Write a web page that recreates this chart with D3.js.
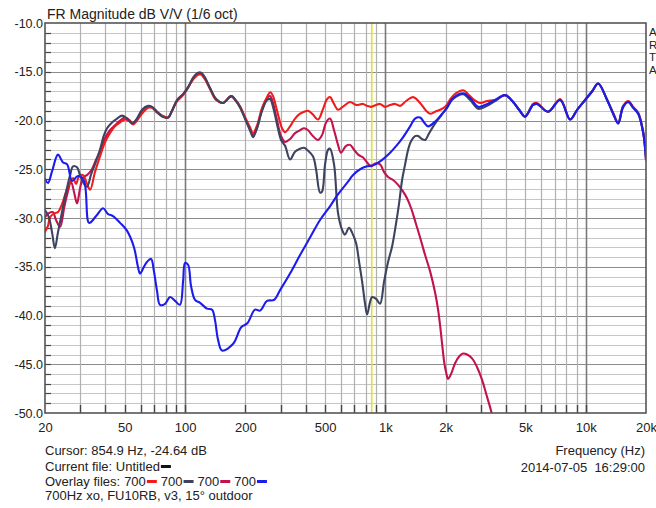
<!DOCTYPE html>
<html><head><meta charset="utf-8">
<script src="https://cdn.jsdelivr.net/npm/d3@7"></script>
<style>
html,body{margin:0;padding:0;background:#fff;}
svg{display:block;font-family:"Liberation Sans",Arial,sans-serif;}
</style></head><body>
<svg id="chart" width="656" height="508"></svg>
<script>
// ---------- data ----------
const titleText = "FR Magnitude dB V/V (1/6 oct)";
const yTickValues = [-50,-45,-40,-35,-30,-25,-20,-15,-10];
const xTickValues = [20,50,100,200,500,1000,2000,5000,10000,20000];
const xTickLabels = ["20","50","100","200","500","1k","2k","5k","10k","20k"];
const cursorHz = 854.9;
const cursorDb = -24.64;
const seriesNames = ["700","700","700","700"];
const sideLetters = ["A","R","T","A"];

// [Hz, dB]
const redSeries = [[20,-31.4],[20.7,-30.8],[21.2,-29.9],[22.4,-29.5],[23.2,-29.4],[24.3,-28.6],[25.5,-27.3],[26.7,-26.3],[27.6,-25.9],[28.6,-26.5],[29.6,-25.7],[31.0,-25.6],[32.4,-26.5],[33.6,-27.1],[35.5,-25.3],[37.6,-23.7],[39.9,-22.2],[42.2,-21.3],[44.7,-20.6],[47.4,-20.2],[50.2,-19.9],[53.1,-20.1],[55.0,-20.4],[57.6,-20.0],[61.0,-19.3],[65.4,-18.7],[68.4,-18.7],[72.5,-19.2],[76.8,-19.5],[82.3,-19.7],[86.1,-19.0],[91.3,-18.0],[97.8,-17.4],[103.6,-16.6],[109.7,-15.8],[116.2,-15.3],[120.3,-15.3],[125.9,-15.8],[133.4,-16.8],[142.9,-17.9],[154.9,-18.2],[169.9,-17.5],[180,-18.0],[188.5,-18.6],[199,-19.6],[211,-20.7],[218.6,-21.3],[228.8,-20.5],[242.4,-18.7],[256.8,-17.6],[265.8,-17.1],[275,-17.5],[288,-19.0],[305,-20.8],[315.8,-21.2],[334.4,-20.6],[354.2,-19.8],[375.2,-19.3],[392.8,-19.1],[411.4,-19.0],[430.6,-19.3],[461.4,-19.9],[488.8,-18.8],[511.6,-17.8],[529.4,-17.6],[554.4,-18.3],[580.4,-18.9],[621.8,-18.5],[666.4,-18.1],[714.4,-18.4],[774.2,-18.3],[810.8,-18.5],[849,-18.6],[899.4,-18.4],[941.2,-18.3],[997,-18.6],[1056,-18.4],[1118,-18.3],[1185,-18.5],[1269,-18.0],[1376,-17.6],[1491,-18.2],[1597,-19.0],[1674,-19.3],[1773,-19.1],[1878,-18.9],[1990,-18.6],[2128,-17.7],[2254,-17.2],[2444,-16.9],[2588,-17.3],[2742,-17.8],[2970,-18.2],[3220,-18.0],[3530,-17.9],[3960,-17.4],[4342,-18.1],[4652,-18.9],[4982,-19.6],[5462,-18.3],[5718,-18.2],[6492,-19.1],[7454,-17.8],[8362,-19.9],[9066,-18.9],[9936,-17.9],[10772,-17.0],[11542,-16.2],[12798,-17.9],[13710,-19.2],[14526,-20.2],[15382,-18.5],[16330,-18.0],[17268,-18.6],[18298,-19.2],[19380,-21.2],[20000,-24.0]];

const navySeries = [[20,-29.2],[20.9,-29.9],[21.7,-31.5],[22.4,-33.1],[23.2,-31.5],[24.0,-30.0],[25.2,-27.8],[26.7,-25.6],[27.6,-24.7],[28.9,-24.8],[29.9,-25.6],[31.3,-26.5],[32.4,-26.8],[34.0,-25.5],[35.5,-24.5],[37.6,-23.0],[39.4,-21.5],[40.8,-20.8],[43.2,-20.2],[45.8,-19.8],[48.5,-19.5],[51.3,-19.8],[54.4,-20.3],[57.6,-19.8],[61.0,-18.9],[65.4,-18.5],[68.4,-18.6],[72.5,-19.1],[76.8,-19.6],[82.3,-19.7],[86.1,-19.0],[91.3,-17.9],[97.8,-17.3],[103.6,-16.6],[109.7,-15.6],[116.2,-15.1],[120.3,-15.1],[125.9,-15.6],[133.4,-16.7],[142.9,-17.8],[154.9,-18.2],[169.9,-17.5],[180,-18.0],[188.5,-18.7],[199,-19.8],[211,-21.0],[218.6,-21.7],[228.8,-20.8],[242.4,-19.0],[256.8,-17.9],[265.8,-17.8],[275,-18.6],[288,-20.4],[301.6,-22.0],[315.8,-22.6],[334.4,-24.0],[354.2,-23.2],[375.2,-22.9],[392.8,-22.8],[411.4,-23.1],[435.6,-23.7],[450.8,-25.0],[472,-27.4],[483,-27.3],[500,-24.5],[517.6,-23.0],[529.4,-22.9],[554.4,-24.5],[580.4,-29.5],[607.8,-31.2],[628.8,-31.7],[658.6,-31.0],[682.4,-31.5],[714.4,-32.6],[739.6,-34.5],[765.4,-36.5],[792,-38.8],[810.8,-39.9],[839,-38.6],[858.8,-38.1],[899.4,-38.3],[941.2,-38.8],[985.6,-36.5],[1032,-34.5],[1081,-32.9],[1132,-30.5],[1171,-28.5],[1212,-26.1],[1255,-24.5],[1299,-23.0],[1345,-22.1],[1407,-21.6],[1457,-21.6],[1526,-21.9],[1579,-22.0],[1654,-21.3],[1733,-20.6],[1815,-20.0],[1900,-19.5],[2009,-18.8],[2178,-17.8],[2444,-17.3],[2648,-17.9],[2904,-18.8],[3146,-18.6],[3530,-18.0],[3960,-17.4],[4342,-18.1],[4652,-18.9],[4982,-19.6],[5462,-18.4],[5718,-18.3],[6492,-19.1],[7454,-17.9],[8362,-19.9],[9066,-18.9],[9936,-17.9],[10772,-17.0],[11542,-16.2],[12798,-17.9],[13710,-19.3],[14526,-20.3],[15382,-18.6],[16330,-18.1],[17268,-18.7],[18298,-19.3],[19380,-21.3],[20000,-24.0]];

const crimsonSeries = [[20,-29.9],[20.9,-29.5],[21.9,-29.4],[22.7,-30.2],[23.8,-30.9],[24.9,-29.0],[25.8,-27.6],[27.0,-26.3],[27.9,-27.3],[28.9,-28.5],[29.9,-27.0],[31.0,-25.8],[32.4,-25.6],[34.3,-25.0],[36.0,-24.0],[37.6,-23.2],[39.9,-21.8],[42.2,-21.0],[44.7,-20.5],[47.4,-20.0],[50.2,-19.7],[53.1,-20.0],[55.0,-20.3],[57.6,-19.8],[61.0,-19.0],[65.4,-18.6],[68.4,-18.6],[72.5,-19.1],[76.8,-19.5],[82.3,-19.7],[86.1,-19.0],[91.3,-17.9],[97.8,-17.3],[103.6,-16.6],[109.7,-15.7],[116.2,-15.2],[120.3,-15.2],[125.9,-15.7],[133.4,-16.7],[142.9,-17.8],[154.9,-18.2],[169.9,-17.5],[180,-18.0],[188.5,-18.6],[199,-19.7],[211,-20.9],[218.6,-21.5],[228.8,-20.7],[242.4,-18.9],[256.8,-17.7],[265.8,-17.5],[275,-18.2],[288,-20.0],[301.6,-21.6],[315.8,-22.2],[334.4,-21.9],[354.2,-21.3],[375.2,-21.0],[392.8,-20.8],[411.4,-21.0],[430.6,-21.5],[461.4,-22.0],[483,-21.5],[505.8,-20.2],[529.4,-19.8],[554.4,-21.0],[580.4,-22.5],[600,-23.3],[636.8,-22.6],[666.4,-22.5],[698,-23.0],[731.4,-23.5],[774.2,-23.8],[810.8,-24.3],[849,-24.7],[888.8,-24.4],[941.2,-24.5],[985.6,-25.3],[1032,-25.8],[1093,-26.1],[1158,-26.6],[1227,-27.3],[1284,-28.0],[1345,-29.0],[1407,-30.3],[1491,-32.0],[1579,-33.8],[1674,-35.5],[1773,-37.7],[1836,-39.5],[1878,-41.1],[1967,-44.8],[2009,-45.8],[2056,-46.5],[2128,-46.0],[2228,-44.9],[2334,-44.2],[2444,-43.9],[2558,-44.0],[2708,-44.4],[2870,-45.3],[3040,-46.6],[3182,-48.0],[3332,-49.4],[3490,-51.0]];

const blueSeries = [[20,-26.0],[20.7,-26.4],[21.7,-25.2],[23.2,-23.5],[24.6,-24.3],[25.8,-24.5],[27.3,-26.2],[29.2,-25.7],[31.3,-26.2],[33.2,-30.5],[36.0,-29.8],[39.0,-29.0],[41.3,-29.6],[43.7,-29.8],[47.4,-30.5],[51.3,-31.3],[55.6,-33.0],[58.2,-35.0],[59.6,-35.7],[62.4,-35.0],[64.6,-34.5],[67.7,-34.2],[70.0,-35.5],[72.5,-37.5],[75.0,-38.9],[79.5,-38.8],[84.2,-38.1],[89.2,-38.5],[94.4,-38.9],[97.8,-36.5],[100,-34.6],[103.6,-34.8],[107.2,-37.0],[112.2,-38.4],[118.9,-38.7],[128.8,-39.3],[136.5,-39.4],[141.2,-40.5],[146.2,-42.5],[153.1,-43.6],[173.9,-42.9],[190.7,-41.2],[204.6,-40.8],[223.6,-39.4],[236.8,-39.5],[256.8,-38.5],[278.2,-38.4],[298.2,-37.4],[334.4,-35.7],[375.2,-33.8],[420.8,-32.0],[472,-30.2],[529.4,-28.8],[573.8,-27.7],[644,-26.4],[690,-25.6],[748,-25.0],[811,-24.7],[869,-24.6],[941,-24.2],[1056,-23.3],[1145,-22.5],[1227,-21.7],[1329,-20.6],[1407,-19.8],[1491,-19.7],[1561,-20.2],[1635,-20.6],[1773,-20.1],[1922,-19.3],[2032,-18.7],[2178,-17.7],[2444,-17.2],[2648,-17.7],[2904,-18.6],[3146,-18.4],[3530,-17.9],[3960,-17.4],[4342,-18.1],[4652,-18.9],[4982,-19.6],[5462,-18.4],[5718,-18.3],[6492,-19.1],[7454,-17.9],[8362,-19.9],[9066,-18.9],[9936,-17.9],[10772,-17.0],[11542,-16.2],[12798,-17.9],[13710,-19.3],[14526,-20.3],[15382,-18.6],[16330,-18.1],[17268,-18.7],[18298,-19.3],[19380,-21.3],[20000,-24.0]];

const seriesColors = ["#f01c1c","#3d4360","#c4124c","#1c1ced"];
const drawOrder = [2,0,1,3]; // crimson, red, navy, blue
const allSeries = [redSeries, navySeries, crimsonSeries, blueSeries];

// ---------- layout ----------
const svg = d3.select("#chart");
const L = 45, T = 23, R = 646, B = 413;
const x = d3.scaleLog().domain([20,20000]).range([L,R]);
const y = d3.scaleLinear().domain([-50,-10]).range([B,T]);

svg.append("rect").attr("width",656).attr("height",508).attr("fill","#fff");

// grid
const grid = svg.append("g");
const minorDb = d3.range(-49,-10).filter(d => d % 5 !== 0);
const majorDb = [-45,-40,-35,-30,-25,-20,-15];
grid.selectAll(".hmin").data(minorDb).join("line")
  .attr("x1",L).attr("x2",R).attr("y1",d=>Math.round(y(d))+0.5).attr("y2",d=>Math.round(y(d))+0.5)
  .attr("stroke","#c6c6c6").attr("stroke-width",1.2);
grid.selectAll(".hmaj").data(majorDb).join("line")
  .attr("x1",L).attr("x2",R).attr("y1",d=>Math.round(y(d))+0.5).attr("y2",d=>Math.round(y(d))+0.5)
  .attr("stroke","#8c8c8c").attr("stroke-width",1.2);
const fGrid = x.ticks().filter(f => f > 20 && f < 20000);
const isDecade = f => [100,1000,10000].includes(Math.round(f));
grid.selectAll(".v").data(fGrid).join("line")
  .attr("x1",d=>Math.round(x(d))+0.5).attr("x2",d=>Math.round(x(d))+0.5).attr("y1",T).attr("y2",B)
  .attr("stroke",d=>isDecade(d)?"#7a7a7a":"#b0b0b0").attr("stroke-width",d=>isDecade(d)?1.6:1.2);

// inner tick marks
grid.selectAll(".lt").data(d3.range(-49,-10)).join("line")
  .attr("x1",L).attr("x2",L+6).attr("y1",d=>Math.round(y(d))+0.5).attr("y2",d=>Math.round(y(d))+0.5)
  .attr("stroke","#444").attr("stroke-width",1.2);
grid.selectAll(".bt").data(fGrid).join("line")
  .attr("x1",d=>Math.round(x(d))+0.5).attr("x2",d=>Math.round(x(d))+0.5).attr("y1",B).attr("y2",B-8)
  .attr("stroke","#444").attr("stroke-width",1.4);

// cursor line
svg.append("line").attr("x1",x(cursorHz)).attr("x2",x(cursorHz)).attr("y1",T).attr("y2",B)
  .attr("stroke","#e2e030").attr("stroke-width",1.6);

// curves
svg.append("clipPath").attr("id","plotclip").append("rect")
  .attr("x",L).attr("y",T).attr("width",R-L).attr("height",B-T);
const line = d3.line().x(d=>x(d[0])).y(d=>y(d[1])).curve(d3.curveCatmullRom.alpha(0.5));
const curves = svg.append("g").attr("clip-path","url(#plotclip)");
drawOrder.forEach(i => {
  curves.append("path").datum(allSeries[i]).attr("d",line)
    .attr("fill","none").attr("stroke",seriesColors[i]).attr("stroke-width",2.1)
    .attr("stroke-linejoin","round").attr("stroke-linecap","round");
});

// frame
svg.append("rect").attr("x",L).attr("y",T).attr("width",R-L).attr("height",B-T)
  .attr("fill","none").attr("stroke","#555").attr("stroke-width",1.6);

// axes labels
const yAxis = d3.axisLeft(y).tickValues(yTickValues).tickSize(0).tickPadding(2).tickFormat(d=>d.toFixed(1));
const ya = svg.append("g").attr("transform",`translate(${L},0)`).call(yAxis);
ya.select(".domain").remove();
ya.selectAll("text").attr("font-size",12.5).attr("fill","#222").attr("font-family","Liberation Sans, Arial, sans-serif");

const xAxis = d3.axisBottom(x).tickValues(xTickValues).tickSize(0).tickPadding(10)
  .tickFormat((d,i)=>xTickLabels[i]);
const xa = svg.append("g").attr("transform",`translate(0,${B})`).call(xAxis);
xa.select(".domain").remove();
xa.selectAll("text").attr("font-size",13).attr("fill","#222").attr("font-family","Liberation Sans, Arial, sans-serif");

// texts
const txt = (s,xx,yy,opts={}) => svg.append("text").attr("x",xx).attr("y",yy)
  .attr("font-size",opts.size||13).attr("fill",opts.fill||"#222")
  .attr("text-anchor",opts.anchor||"start").text(s);

txt(titleText, 47, 19, {size:14});
sideLetters.forEach((c,i)=>txt(c, 649, 36+i*12.5, {size:11.5}));
txt("Frequency (Hz)", 645, 455, {anchor:"end"});
txt("2014-07-05\u00a0\u00a016:29:00", 645, 472, {anchor:"end"});
txt(`Cursor: ${cursorHz} Hz, ${cursorDb} dB`, 45, 455);
const cur = txt("Current file: Untitled", 45, 471);
const cw = cur.node().getComputedTextLength();
svg.append("rect").attr("x",45+cw+1).attr("y",465).attr("width",10).attr("height",3).attr("fill","#111");

let ox = 45;
const ov = txt("Overlay files:", ox, 486);
ox += ov.node().getComputedTextLength() + 4;
seriesNames.forEach((n,i)=>{
  const t = txt(n, ox, 486);
  ox += t.node().getComputedTextLength();
  svg.append("rect").attr("x",ox+1).attr("y",480).attr("width",10).attr("height",3).attr("fill",seriesColors[i]);
  ox += 15;
});
txt("700Hz xo, FU10RB, v3, 15\u00b0 outdoor", 45, 500);
</script>
</body></html>
